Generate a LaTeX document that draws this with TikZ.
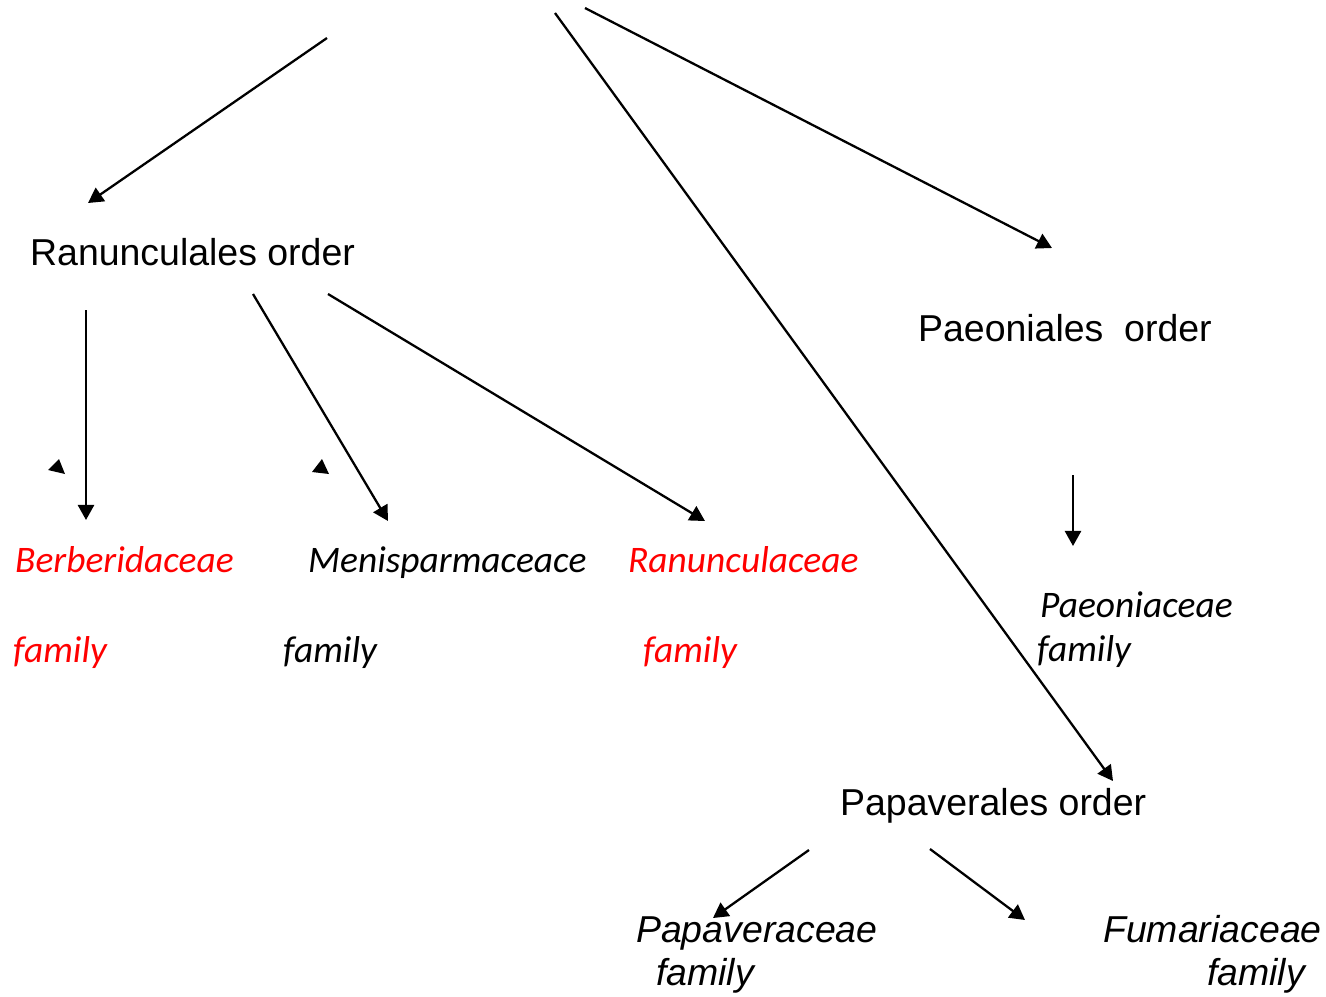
\documentclass[tikz,border=0pt]{standalone}
\usepackage{fontspec}
\setmainfont{Liberation Sans}
\newfontfamily\calibri{Carlito}
\usetikzlibrary{arrows.meta}
\begin{document}
\begin{tikzpicture}[x=0.01cm,y=-0.01cm,line width=0.65pt,
    font=\fontsize{10.65}{12}\selectfont,
    every node/.style={anchor=base west,inner sep=0pt},
    fam/.style={font=\fontsize{10.65}{12}\selectfont\calibri\itshape},
    famsans/.style={font=\fontsize{10.65}{12}\selectfont\itshape}]
  \useasboundingbox (0,0) rectangle (1326,996);
  \path
    (29,265) node (rorder){Ranunculales order}
    (917,341) node (porder){Paeoniales\ \ order}
    (839,815) node (paorder){Papaverales order};
  \path[fam]
    (14,572) node[red] (berb){Berberidaceae}
    (12,662) node[red] (berbfam){family}
    (307,572) node (meni){Menisparmaceace}
    (282,662) node (menifam){family}
    (627,572) node[red] (ranu){Ranunculaceae}
    (642,662) node[red] (ranufam){family}
    (1039,617) node (paeo){Paeoniaceae}
    (1036,661) node (paeofam){family};
  \path[famsans]
    (635,942) node (papa){Papaveraceae}
    (655,985) node (papafam){family}
    (1102,942) node (fuma){Fumariaceae}
    (1206,985) node (fumafam){family};
  % free ends of the arrows
  \coordinate (s1) at (327,38);   \coordinate (e1) at (88,203);
  \coordinate (s2) at (555,13);   \coordinate (e2) at (1113,781);
  \coordinate (s3) at (585,8);    \coordinate (e3) at (1052,248);
  \coordinate (s4) at (86,310);   \coordinate (e4) at (86,520);
  \coordinate (s5) at (253,294);  \coordinate (e5) at (388,521);
  \coordinate (s6) at (328,294);  \coordinate (e6) at (705,521);
  \coordinate (s7) at (1073,475); \coordinate (e7) at (1073,546);
  \coordinate (s8) at (809,850);  \coordinate (e8) at (713,918);
  \coordinate (s9) at (930,849);  \coordinate (e9) at (1025,920);
  \begin{scope}[-{Triangle[length=4.3pt,width=4.6pt]}]
    \draw (s1) to (e1);
    \draw (s2) to (e2);
    \draw (s3) to (e3);
    \draw (s4) to (e4);
    \draw (s5) to (e5);
    \draw (s6) to (e6);
    \draw (s7) to (e7);
    \draw (s8) to (e8);
    \draw (s9) to (e9);
  \end{scope}
  % loose arrow heads
  \fill (48,470) -- (65,474) -- (59,459) -- cycle;
  \fill (312,472) -- (329,474) -- (322,459) -- cycle;
\end{tikzpicture}
\end{document}
